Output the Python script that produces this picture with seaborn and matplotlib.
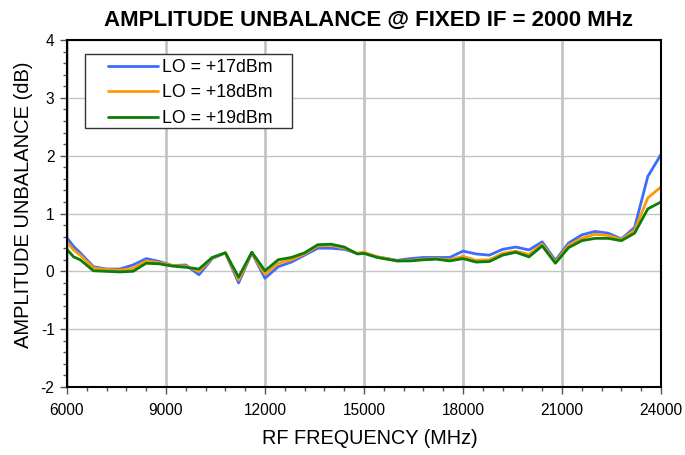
import numpy as np
import pandas as pd
import matplotlib
matplotlib.use('Agg')
import matplotlib.pyplot as plt
from matplotlib.ticker import MultipleLocator
from matplotlib.patches import Rectangle
import seaborn as sns

# RF frequency points (MHz)
freq = [6000, 6200, 6400, 6800, 7200, 7600, 8000, 8400, 8800, 9200, 9600,
        10000, 10400, 10800, 11200, 11600, 12000, 12400, 12800, 13200, 13600,
        14000, 14400, 14800, 15000, 15400, 15800, 16000, 16400, 16800, 17200,
        17600, 18000, 18400, 18800, 19200, 19600, 20000, 20400, 20800, 21200,
        21600, 22000, 22400, 22800, 23200, 23600, 24000]

# amplitude unbalance (dB) per LO drive level
lo17 = [0.58, 0.43, 0.32, 0.08, 0.04, 0.04, 0.11, 0.22, 0.17, 0.10, 0.11,
        -0.06, 0.22, 0.32, -0.20, 0.32, -0.12, 0.08, 0.16, 0.28, 0.40,
        0.40, 0.38, 0.31, 0.32, 0.25, 0.21, 0.19, 0.22, 0.24, 0.24,
        0.24, 0.35, 0.30, 0.28, 0.38, 0.42, 0.37, 0.51, 0.19, 0.49,
        0.63, 0.69, 0.66, 0.56, 0.76, 1.64, 2.02]
lo18 = [0.50, 0.37, 0.28, 0.06, 0.03, 0.02, 0.05, 0.18, 0.15, 0.10, 0.09,
        0.00, 0.23, 0.32, -0.15, 0.32, -0.05, 0.14, 0.20, 0.30, 0.44,
        0.45, 0.40, 0.31, 0.33, 0.25, 0.21, 0.18, 0.19, 0.21, 0.22,
        0.20, 0.26, 0.19, 0.20, 0.31, 0.35, 0.29, 0.47, 0.16, 0.45,
        0.57, 0.64, 0.62, 0.55, 0.71, 1.27, 1.46]
lo19 = [0.38, 0.25, 0.20, 0.01, 0.00, -0.01, 0.00, 0.14, 0.13, 0.09, 0.07,
        0.04, 0.24, 0.32, -0.10, 0.33, 0.01, 0.20, 0.24, 0.32, 0.46,
        0.47, 0.42, 0.30, 0.31, 0.24, 0.20, 0.18, 0.18, 0.20, 0.21,
        0.18, 0.22, 0.16, 0.17, 0.28, 0.33, 0.25, 0.44, 0.14, 0.41,
        0.53, 0.57, 0.57, 0.53, 0.66, 1.08, 1.20]

labels = ['LO = +17dBm', 'LO = +18dBm', 'LO = +19dBm']
colors = ['#3d6bff', '#ff9900', '#0a7d0a']

df = pd.DataFrame({'freq': freq * 3,
                   'unbal': lo17 + lo18 + lo19,
                   'lo': [labels[0]] * len(freq) + [labels[1]] * len(freq) + [labels[2]] * len(freq)})

sns.set_style('white')
plt.rcParams['font.family'] = ['Liberation Sans', 'DejaVu Sans']
plt.rcParams['axes.unicode_minus'] = False
plt.rcParams['text.color'] = 'black'
plt.rcParams['axes.labelcolor'] = 'black'
plt.rcParams['xtick.labelcolor'] = 'black'
plt.rcParams['ytick.labelcolor'] = 'black'

fig = plt.figure(figsize=(6.85, 4.55), dpi=100)
ax = fig.add_axes([67 / 685, 1 - 387 / 455, 594 / 685, 347 / 455])

sns.lineplot(data=df, x='freq', y='unbal', hue='lo', palette=colors,
             linewidth=2, ax=ax, legend=True)

ax.set_xlim(6000, 24000)
ax.set_ylim(-2, 4)
ax.xaxis.set_major_locator(MultipleLocator(3000))
ax.xaxis.set_minor_locator(MultipleLocator(600))
ax.yaxis.set_major_locator(MultipleLocator(1))
ax.yaxis.set_minor_locator(MultipleLocator(0.2))
ax.grid(which='major', axis='x', color='#c4c4c4', linewidth=2)
ax.grid(which='major', axis='y', color='#c4c4c4', linewidth=1)
ax.set_axisbelow(True)
for s in ax.spines.values():
    s.set_color('black')
    s.set_linewidth(1.5)
ax.tick_params(which='major', direction='out', length=5, width=1, color='#555555',
               labelsize=11.2, labelcolor='black', bottom=True, left=True)
ax.tick_params(axis='x', which='major', pad=6.5)
ax.tick_params(axis='y', which='major', pad=4)
ax.tick_params(which='minor', direction='out', length=3, width=1, color='#555555',
               bottom=True, left=True)

ax.set_xlabel('RF FREQUENCY (MHz)', fontsize=14.3, color='black')
ax.xaxis.set_label_coords(0.51, -0.122)
ax.xaxis.label.set_verticalalignment('top')
ax.set_ylabel('AMPLITUDE UNBALANCE (dB)', fontsize=14.5, color='black')
ax.yaxis.set_label_coords(-0.057, 0.5245)
ax.set_title('AMPLITUDE UNBALANCE @ FIXED IF = 2000 MHz', fontsize=16,
             fontweight='bold', pad=10, color='black', x=0.508)

# legend box drawn separately so its side padding can be wider than the top/bottom
ax.add_patch(Rectangle((0.0303, 0.7464), 0.3485, 0.2133, transform=ax.transAxes,
                       facecolor='white', edgecolor='#333333', linewidth=1, zorder=4))
leg = ax.legend(loc='upper left', bbox_to_anchor=(0.069, 0.946), frameon=False,
                fontsize=12.8, handlelength=2.8, borderpad=0, labelspacing=0.48,
                handletextpad=0.25, borderaxespad=0)
leg.set_zorder(5)
for line in leg.get_lines():
    line.set_linewidth(2)
for t in leg.get_texts():
    t.set_color('black')

fig.savefig('out.png', dpi=100)
